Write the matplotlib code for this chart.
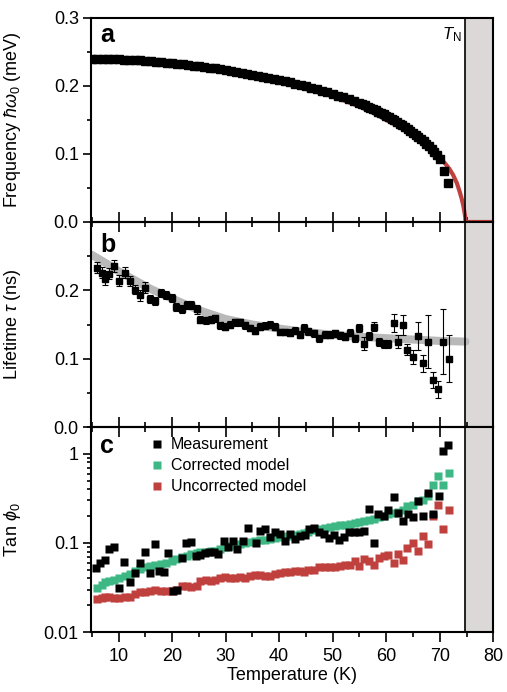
import numpy as np
import matplotlib
matplotlib.use('Agg')
import matplotlib.pyplot as plt
from matplotlib.ticker import MultipleLocator, FixedLocator, LogLocator, NullFormatter, FuncFormatter

plt.rcParams['font.family'] = ['Liberation Sans', 'DejaVu Sans']
plt.rcParams['mathtext.fontset'] = 'custom'
plt.rcParams['mathtext.rm'] = 'Liberation Sans'
plt.rcParams['mathtext.it'] = 'Liberation Sans:italic'
plt.rcParams['mathtext.fallback'] = 'stixsans'

# ---------------- data ----------------
TN = 74.8

# panel a: frequency
Ta = [5, 6, 7, 8, 9, 10, 11, 12, 13, 14, 15, 16, 17, 18, 19, 20, 21, 22, 23, 24,
      25, 26, 27, 28, 29, 30, 31, 32, 33, 34, 35, 36, 37, 38, 39, 40, 41, 42, 43, 44,
      45, 46, 47, 48, 49, 50, 51, 52, 53, 54, 55, 55.5, 56, 56.5, 57, 57.5, 58, 58.5,
      59, 59.5, 60, 60.5, 61, 61.5, 62, 62.5, 63, 63.5, 64, 64.5, 65, 65.5, 66, 66.5,
      67, 67.5, 68, 68.5, 69, 69.5, 70, 70.7, 71.5]
freq = [0.2400, 0.2400, 0.2398, 0.2396, 0.2393, 0.2390, 0.2387, 0.2383, 0.2379, 0.2375,
        0.2370, 0.2364, 0.2358, 0.2351, 0.2344, 0.2336, 0.2328, 0.2319, 0.2310, 0.2300,
        0.2290, 0.2280, 0.2269, 0.2258, 0.2246, 0.2234, 0.2221, 0.2208, 0.2195, 0.2181,
        0.2167, 0.2152, 0.2137, 0.2121, 0.2105, 0.2088, 0.2071, 0.2053, 0.2034, 0.2015,
        0.1995, 0.1974, 0.1952, 0.1929, 0.1905, 0.1880, 0.1856, 0.1831, 0.1805, 0.1776,
        0.1745, 0.1730, 0.1714, 0.1697, 0.1680, 0.1662, 0.1643, 0.1624, 0.1604, 0.1583,
        0.1561, 0.1539, 0.1516, 0.1493, 0.1469, 0.1445, 0.1420, 0.1395, 0.1369, 0.1342,
        0.1314, 0.1285, 0.1254, 0.1221, 0.1187, 0.1151, 0.1113, 0.1072, 0.1028, 0.0980,
        0.0925, 0.0745, 0.0570]
Ta_fit = [5, 10, 20, 30, 40, 50, 55, 58, 60, 62, 64, 66, 67.5, 69, 70, 70.9, 71.8, 72.5,
          73.2, 73.7, 74.1, 74.4, 74.6, 74.75, 74.8, 80]
freq_fit = [0.239, 0.238, 0.232, 0.2215, 0.206, 0.185, 0.170, 0.159, 0.150, 0.142, 0.132,
            0.121, 0.111, 0.101, 0.094, 0.087, 0.078, 0.069, 0.057, 0.045, 0.034, 0.024,
            0.015, 0.007, 0.0, 0.0]

# panel b: lifetime
Tb = [5.9, 6.85, 7.5, 8.3, 9.1, 10.1, 11.2, 12.1, 13.1, 14.0,
      14.9, 15.9, 16.8, 17.9, 18.8, 19.9, 20.8, 21.8, 22.7, 23.6,
      24.6, 25.3, 26.3, 27.2, 28.0, 28.9, 29.9, 30.8, 31.7, 32.7,
      33.6, 34.5, 35.5, 36.4, 37.3, 38.3, 39.2, 40.1, 41.1, 42.0,
      42.9, 43.9, 44.6, 45.4, 46.5, 47.5, 48.5, 49.5, 50.4, 51.3,
      52.3, 53.2, 54.1, 54.9, 55.8, 56.8, 57.7, 58.7, 59.5, 60.3,
      61.4, 62.2, 63.2, 63.9, 65.0, 66.0, 66.9, 67.8, 68.8, 69.7,
      70.6, 71.7]
tau = [0.233, 0.226, 0.216, 0.224, 0.236, 0.214, 0.226, 0.214, 0.201, 0.193,
       0.204, 0.187, 0.184, 0.196, 0.193, 0.189, 0.176, 0.173, 0.179, 0.178,
       0.172, 0.157, 0.156, 0.157, 0.159, 0.149, 0.147, 0.150, 0.153, 0.153,
       0.149, 0.145, 0.141, 0.147, 0.148, 0.150, 0.147, 0.139, 0.139, 0.138,
       0.141, 0.135, 0.145, 0.140, 0.137, 0.130, 0.135, 0.135, 0.137, 0.134,
       0.132, 0.138, 0.130, 0.145, 0.122, 0.133, 0.147, 0.124, 0.122, 0.122,
       0.152, 0.125, 0.149, 0.113, 0.102, 0.133, 0.093, 0.125, 0.069, 0.055,
       0.125, 0.100]
tau_err = [0.008, 0.008, 0.008, 0.008, 0.009, 0.008, 0.008, 0.007, 0.007, 0.008,
           0.008, 0.006, 0.006, 0.006, 0.006, 0.006, 0.006, 0.006, 0.006, 0.006,
           0.006, 0.005, 0.005, 0.005, 0.005, 0.005, 0.005, 0.005, 0.005, 0.005,
           0.005, 0.005, 0.005, 0.005, 0.005, 0.005, 0.005, 0.005, 0.005, 0.005,
           0.005, 0.005, 0.006, 0.005, 0.005, 0.005, 0.005, 0.005, 0.005, 0.005,
           0.005, 0.005, 0.005, 0.006, 0.009, 0.006, 0.0065, 0.006, 0.006, 0.006,
           0.013, 0.009, 0.015, 0.008, 0.010, 0.021, 0.012, 0.039, 0.0115, 0.012,
           0.048, 0.034]
Tb_fit = [5, 8, 10, 13, 16, 20, 25, 30, 35, 40, 45, 50, 55, 60, 65, 70, 74.8]
tau_fit = [0.252, 0.238, 0.228, 0.215, 0.202, 0.188, 0.171, 0.158, 0.150, 0.144, 0.139,
           0.135, 0.132, 0.130, 0.128, 0.126, 0.125]

# panel c: tan phi0
Tc = [5.8, 6.6, 7.5, 8.3, 9.1, 10.1, 11.1, 12.1, 13.1, 14.0,
      14.9, 15.9, 16.8, 17.6, 18.5, 19.3, 20.1, 21.0, 21.8, 22.6,
      23.5, 24.5, 25.3, 26.1, 26.9, 27.8, 28.6, 29.6, 30.5, 31.3,
      32.2, 33.2, 34.2, 35.7, 36.5, 37.4, 38.3, 39.2, 40.1, 41.1,
      42.0, 42.9, 43.9, 44.8, 45.6, 46.5, 47.5, 48.3, 49.3, 50.2,
      51.2, 52.1, 53.1, 53.9, 55.0, 55.8, 56.8, 57.7, 58.5, 59.5,
      60.3, 61.4, 62.2, 63.2, 64.1, 65.0, 66.0, 66.9, 67.8, 68.8,
      69.9, 70.6, 71.5]
tan_meas = [0.052, 0.059, 0.064, 0.085, 0.089, 0.031, 0.0605, 0.0367, 0.0455, 0.059,
            0.0785, 0.0455, 0.0975, 0.0483, 0.047, 0.0764, 0.029, 0.0295, 0.0672, 0.101,
            0.102, 0.0714, 0.073, 0.078, 0.080, 0.080, 0.0746, 0.105, 0.089, 0.104,
            0.0855, 0.104, 0.146, 0.099, 0.137, 0.143, 0.118, 0.132, 0.125, 0.104,
            0.125, 0.110, 0.120, 0.123, 0.143, 0.146, 0.134, 0.125, 0.113, 0.123,
            0.108, 0.118, 0.134, 0.132, 0.134, 0.137, 0.242, 0.099, 0.211, 0.203,
            0.236, 0.325, 0.216, 0.174, 0.211, 0.193, 0.292, 0.203, 0.363, 0.211,
            0.339, 1.09, 1.25]
tan_corr = [0.031, 0.034, 0.036, 0.037, 0.038, 0.040, 0.043, 0.045, 0.048, 0.051,
            0.053, 0.055, 0.057, 0.058, 0.060, 0.063, 0.066, 0.069, 0.072, 0.075,
            0.077, 0.079, 0.080, 0.081, 0.082, 0.086, 0.090, 0.093, 0.095, 0.097,
            0.100, 0.103, 0.105, 0.107, 0.109, 0.111, 0.114, 0.116, 0.119, 0.121,
            0.124, 0.127, 0.130, 0.134, 0.138, 0.142, 0.146, 0.151, 0.155, 0.158,
            0.161, 0.165, 0.168, 0.172, 0.176, 0.182, 0.188, 0.196, 0.203, 0.210,
            0.218, 0.222, 0.236, 0.257, 0.268, 0.292, 0.306, 0.333, 0.451, 0.56,
            0.45, 0.61]
tan_uncorr = [0.0235, 0.024, 0.025, 0.025, 0.024, 0.024, 0.025, 0.025, 0.027, 0.028,
              0.028, 0.029, 0.030, 0.029, 0.029, 0.029, 0.030, 0.033, 0.033, 0.032,
              0.033, 0.037, 0.038, 0.037, 0.038, 0.040, 0.041, 0.040, 0.040, 0.041,
              0.040, 0.042, 0.044, 0.044, 0.043, 0.043, 0.045, 0.046, 0.047, 0.047,
              0.048, 0.048, 0.047, 0.050, 0.050, 0.054, 0.053, 0.053, 0.054, 0.055,
              0.057, 0.056, 0.062, 0.055, 0.066, 0.063, 0.056, 0.068, 0.071, 0.073,
              0.059, 0.075, 0.064, 0.087, 0.100, 0.082, 0.120, 0.097, 0.198, 0.268,
              0.143, 0.236]

legend_labels = ['Measurement', 'Corrected model', 'Uncorrected model']

# ---------------- style ----------------
RED = '#c0403e'
GREEN = '#3db884'
BAND = '#dcd8d7'
GRAYFIT = '#b9b9b9'
FS = 13

fig = plt.figure(figsize=(5.07, 6.92), dpi=100)
L, W = 0.1795, 0.7935
ax1 = fig.add_axes([L, 0.6792, W, 0.2948])
ax2 = fig.add_axes([L, 0.3829, W, 0.2963])
ax3 = fig.add_axes([L, 0.0867, W, 0.2962])

for ax in (ax1, ax2, ax3):
    ax.patch.set_visible(False)
    ax.set_xlim(4.85, 80)
    ax.axvspan(TN, 80, color=BAND, lw=0, zorder=0)
    ax.axvline(TN, color='k', lw=1.2, zorder=5)
    for s in ax.spines.values():
        s.set_linewidth(1.5)
    ax.xaxis.set_major_locator(MultipleLocator(10))
    ax.xaxis.set_minor_locator(MultipleLocator(5))
    ax.tick_params(axis='y', which='major', direction='out', length=5.8, width=1.2,
                   labelsize=FS, pad=3)
    ax.tick_params(axis='y', which='minor', direction='out', length=2.9, width=1.2)

for ax in (ax1, ax2):
    ax.tick_params(axis='x', which='major', direction='inout', length=14, width=1.2,
                   labelbottom=False)
    ax.tick_params(axis='x', which='minor', direction='inout', length=6.5, width=1.2)
ax3.tick_params(axis='x', which='major', direction='out', length=7.2, width=1.2,
                labelsize=FS, pad=4)
ax3.tick_params(axis='x', which='minor', direction='out', length=3.6, width=1.2)

# ---- panel a ----
ax1.plot(Ta_fit, freq_fit, color=RED, lw=3, zorder=2, solid_capstyle='butt')
ax1.plot(Ta, freq, 's', color='k', ms=5.5, zorder=3)
ax1.set_ylim(0, 0.3)
ax1.yaxis.set_major_locator(FixedLocator([0.0, 0.1, 0.2, 0.3]))
ax1.yaxis.set_minor_locator(FixedLocator([0.05, 0.15, 0.25]))
ax1.yaxis.set_major_formatter(FuncFormatter(lambda v, p: f'{v:.1f}'))
ax1.set_ylabel(r'Frequency $\hbar\omega_0$ (meV)', fontsize=FS)
ax1.yaxis.set_label_coords(-0.17, 0.5)
ax1.text(0.022, 0.882, 'a', transform=ax1.transAxes, fontsize=18, fontweight='bold',
         va='baseline', ha='left')
ax1.text(74.1, 0.275, r'$T_\mathrm{N}$', fontsize=12, ha='right', va='center')

# ---- panel b ----
ax2.plot(Tb_fit, tau_fit, color=GRAYFIT, lw=5.8, zorder=1, solid_capstyle='round')
ax2.errorbar(Tb, tau, yerr=tau_err, fmt='s', color='k', ms=5, ecolor='k',
             elinewidth=0.8, capsize=2.5, capthick=0.8, zorder=3)
ax2.set_ylim(0, 0.3)
ax2.yaxis.set_major_locator(FixedLocator([0.0, 0.1, 0.2]))
ax2.yaxis.set_minor_locator(FixedLocator([0.05, 0.15, 0.25]))
ax2.yaxis.set_major_formatter(FuncFormatter(lambda v, p: f'{v:.1f}'))
ax2.set_ylabel(r'Lifetime $\tau$ (ns)', fontsize=FS)
ax2.yaxis.set_label_coords(-0.17, 0.5)
ax2.text(0.022, 0.854, 'b', transform=ax2.transAxes, fontsize=18, fontweight='bold',
         va='baseline', ha='left')

# ---- panel c ----
ax3.set_yscale('log')
h_corr, = ax3.plot(Tb, tan_corr, 's', color=GREEN, ms=6, zorder=2, mec='none')
h_unc, = ax3.plot(Tb, tan_uncorr, 's', color=RED, ms=6, zorder=2, mec='none')
h_meas, = ax3.plot(Tc, tan_meas, 's', color='k', ms=6, zorder=3, mec='none')
ax3.set_ylim(0.01, 2)
ax3.yaxis.set_major_locator(FixedLocator([0.01, 0.1, 1]))
ax3.yaxis.set_minor_locator(LogLocator(base=10, subs=np.arange(2, 10)))
ax3.yaxis.set_minor_formatter(NullFormatter())
labmap = {0.01: '0.01', 0.1: '0.1', 1: '1'}
ax3.yaxis.set_major_formatter(FuncFormatter(lambda v, p: labmap.get(round(v, 3), '')))
ax3.set_ylabel(r'Tan $\phi_0$', fontsize=FS)
ax3.yaxis.set_label_coords(-0.17, 0.5)
ax3.set_xlabel('Temperature (K)', fontsize=FS, labelpad=2)
ax3.text(0.022, 0.873, 'c', transform=ax3.transAxes, fontsize=18, fontweight='bold',
         va='baseline', ha='left')
ax3.legend([h_meas, h_corr, h_unc], legend_labels, loc='upper left',
           bbox_to_anchor=(0.15, 0.95), frameon=False, fontsize=11.5,
           handlelength=0.7, handletextpad=0.5, labelspacing=0.38, borderaxespad=0,
           borderpad=0, numpoints=1, markerscale=0.9)

fig.savefig('out.png', dpi=100)
